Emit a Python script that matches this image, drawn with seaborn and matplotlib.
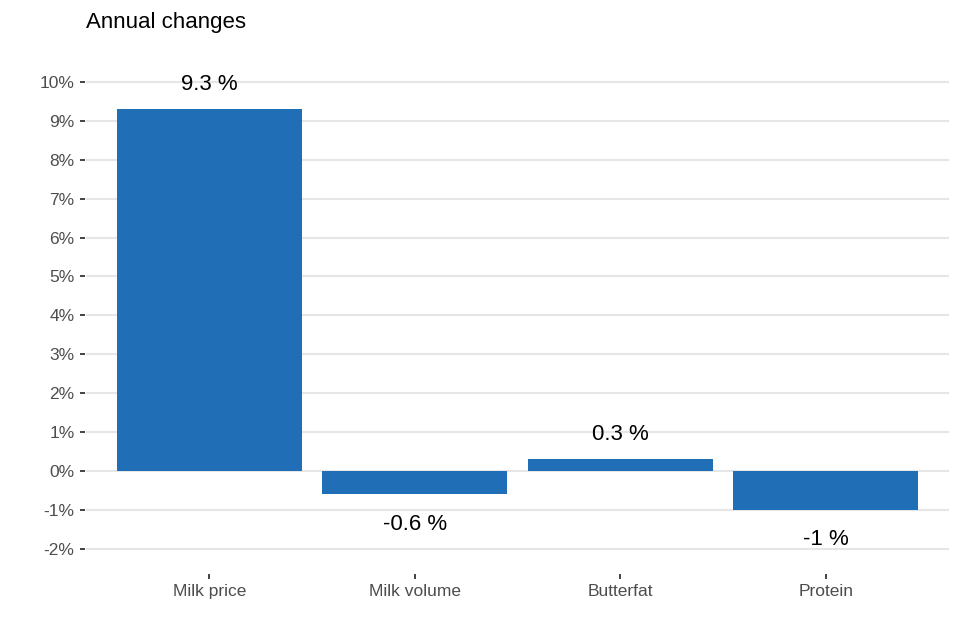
import matplotlib
matplotlib.use("Agg")
import matplotlib.pyplot as plt
import seaborn as sns
import pandas as pd

categories = ["Milk price", "Milk volume", "Butterfat", "Protein"]
values = [9.3, -0.6, 0.3, -1.0]
bar_labels = ["9.3 %", "-0.6 %", "0.3 %", "-1 %"]
y_ticks = [-2, -1, 0, 1, 2, 3, 4, 5, 6, 7, 8, 9, 10]
y_tick_labels = [f"{t}%" for t in y_ticks]
title = "Annual changes"

df = pd.DataFrame({"category": categories, "value": values})

sns.set_theme(style="white")
plt.rcParams["font.family"] = ["Liberation Sans", "DejaVu Sans"]

W, H = 960, 640
fig = plt.figure(figsize=(W / 100, H / 100), dpi=100)
left, right, top, bottom = 86, 949, 62, 566
ax = fig.add_axes([left / W, 1 - bottom / H, (right - left) / W, (bottom - top) / H])

for t in y_ticks:
    ax.axhline(t, color="#e6e6e6", linewidth=1.5, zorder=0)

sns.barplot(data=df, x="category", y="value", color="#1F6EB6", width=0.9,
            saturation=1, linewidth=0, edgecolor="none", ax=ax, zorder=2)

for i, (v, lab) in enumerate(zip(values, bar_labels)):
    off = 0.7 if v >= 0 else -0.7
    ax.text(i, v + off, lab, ha="center", va="center_baseline", fontsize=16,
            color="black", zorder=3)

ax.set_xlim(-0.6, 3.6)
ax.set_ylim(-2.44, 10.51)
ax.set_yticks(y_ticks)
ax.set_yticklabels(y_tick_labels)
ax.set_xlabel("")
ax.set_ylabel("")

for s in ax.spines.values():
    s.set_visible(False)
ax.spines["left"].set_position(("outward", 0.8))
ax.spines["bottom"].set_position(("outward", 5.8))

ax.tick_params(axis="both", which="major", direction="out", length=3.4, width=1.2,
               color="#222222", labelcolor="#4d4d4d", labelsize=12.5, pad=4.0,
               left=True, bottom=True)

fig.text(86 / W, 1 - 28 / H, title, ha="left", va="baseline", fontsize=16, color="black")

fig.savefig("out.png", dpi=100, facecolor="white")
